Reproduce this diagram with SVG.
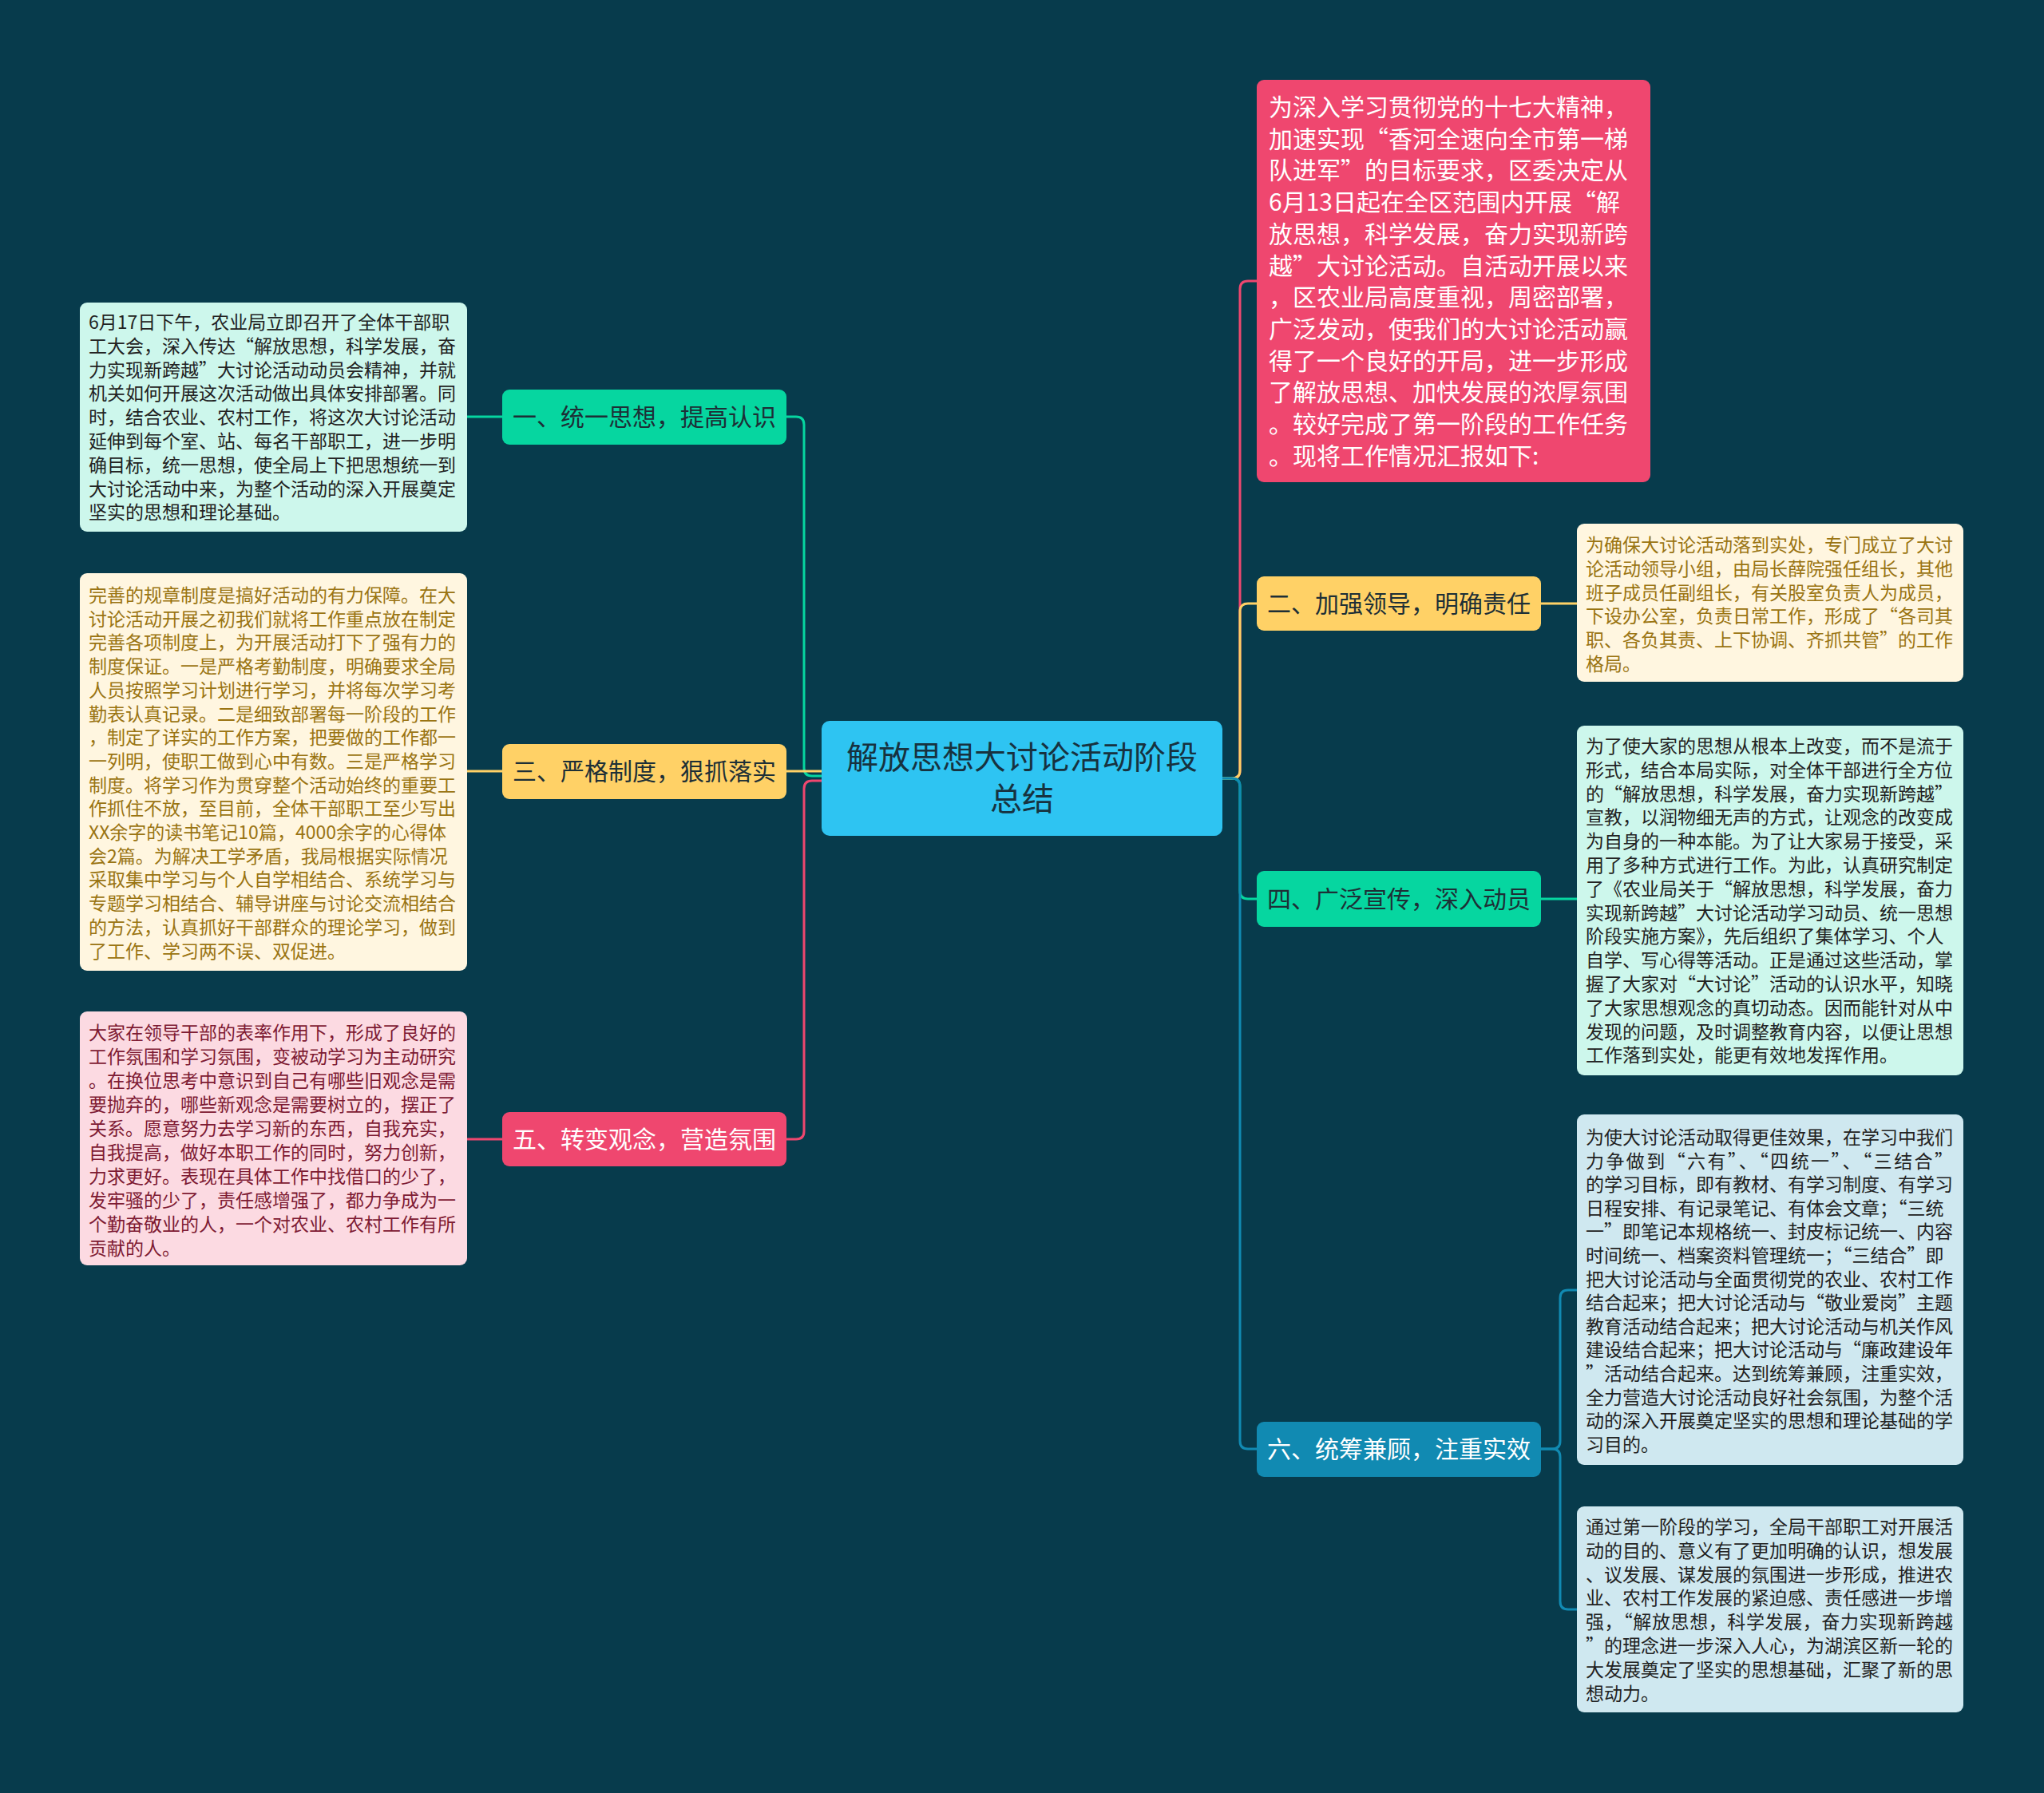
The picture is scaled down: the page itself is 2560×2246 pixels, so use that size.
<svg xmlns="http://www.w3.org/2000/svg" width="2560" height="2246" viewBox="0 0 2560 2246">
<style>
text{font-family:"Noto Sans CJK SC","Noto Sans",sans-serif;}
.conn path{fill:none;stroke-width:3;stroke-linecap:round;}
.g{stroke:#06D6A0}.y{stroke:#FFD166}.p{stroke:#EF476F}.b{stroke:#118AB2}
.lbl{font-size:30px;text-anchor:middle;}
.det{font-size:23px;}
.dark{fill:#1d2f36}
.light{fill:#ffffff}
</style>
<rect width="2560" height="2246" fill="#073B4C"/>
<g id="connectors" class="conn">
<path class="g" d="M1029,972 H1017 Q1007,972 1007,962 V532 Q1007,522 997,522 H985"/>
<path class="p" d="M1029,978 H1017 Q1007,978 1007,988 V1417 Q1007,1427 997,1427 H985"/>
<path class="y" d="M1029,966 H985"/>
<path class="g" d="M629,522 H585"/>
<path class="y" d="M629,966 H585"/>
<path class="p" d="M629,1427 H585"/>
<path class="p" d="M1531,975 H1543 Q1553,975 1553,965 V362 Q1553,352 1563,352 H1574"/>
<path class="y" d="M1531,975 H1543 Q1553,975 1553,965 V766 Q1553,756 1563,756 H1574"/>
<path class="g" d="M1531,975 H1543 Q1553,975 1553,985 V1116 Q1553,1126 1563,1126 H1574"/>
<path class="b" d="M1531,975 H1543 Q1553,975 1553,985 V1805 Q1553,1815 1563,1815 H1574"/>
<path class="y" d="M1930,756 H1975"/>
<path class="g" d="M1930,1126 H1975"/>
<path class="b" d="M1930,1815 H1944 Q1954,1815 1954,1805 V1626 Q1954,1616 1964,1616 H1975"/>
<path class="b" d="M1930,1815 H1944 Q1954,1815 1954,1825 V2006 Q1954,2016 1964,2016 H1975"/>
</g>
<g id="center">
<rect x="1029" y="903" width="502" height="144" rx="10" fill="#2EC4F2"/>
<text x="1280" y="963" font-size="40" text-anchor="middle" fill="#17323f"><tspan x="1280">解放思想大讨论活动阶段</tspan><tspan x="1280" dy="52">总结</tspan></text>
</g>
<g id="n1">
<rect x="629" y="488" width="356" height="69" rx="9" fill="#06D6A0"/>
<text class="lbl dark" x="807" y="533">一、统一思想，提高认识</text>
</g>
<g id="n3">
<rect x="629" y="932" width="356" height="69" rx="9" fill="#FFD166"/>
<text class="lbl dark" x="807" y="977">三、严格制度，狠抓落实</text>
</g>
<g id="n5">
<rect x="629" y="1393" width="356" height="68" rx="9" fill="#EF476F"/>
<text class="lbl light" x="807" y="1438">五、转变观念，营造氛围</text>
</g>
<g id="n2">
<rect x="1574" y="722" width="356" height="68" rx="9" fill="#FFD166"/>
<text class="lbl dark" x="1752" y="767">二、加强领导，明确责任</text>
</g>
<g id="n4">
<rect x="1574" y="1091" width="356" height="70" rx="9" fill="#06D6A0"/>
<text class="lbl dark" x="1752" y="1137">四、广泛宣传，深入动员</text>
</g>
<g id="n6">
<rect x="1574" y="1781" width="356" height="69" rx="9" fill="#118AB2"/>
<text class="lbl light" x="1752" y="1826">六、统筹兼顾，注重实效</text>
</g>
<g id="intro">
<rect x="1574" y="100" width="493" height="504" rx="9" fill="#EF476F"/>
<text x="1589" y="145" font-size="30" fill="#ffffff"><tspan x="1589">为深入学习贯彻党的十七大精神，</tspan><tspan x="1589" dy="39.7">加速实现“香河全速向全市第一梯</tspan><tspan x="1589" dy="39.7">队进军”的目标要求，区委决定从</tspan><tspan x="1589" dy="39.7">6月13日起在全区范围内开展“解</tspan><tspan x="1589" dy="39.7">放思想，科学发展，奋力实现新跨</tspan><tspan x="1589" dy="39.7">越”大讨论活动。自活动开展以来</tspan><tspan x="1589" dy="39.7">，区农业局高度重视，周密部署，</tspan><tspan x="1589" dy="39.7">广泛发动，使我们的大讨论活动赢</tspan><tspan x="1589" dy="39.7">得了一个良好的开局，进一步形成</tspan><tspan x="1589" dy="39.7">了解放思想、加快发展的浓厚氛围</tspan><tspan x="1589" dy="39.7">。较好完成了第一阶段的工作任务</tspan><tspan x="1589" dy="39.7">。现将工作情况汇报如下:</tspan></text>
</g>
<g id="d1">
<rect x="100" y="379" width="485" height="287" rx="9" fill="#CDF7EC"/>
<text class="det" x="111" y="412" fill="#222222"><tspan x="111">6月17日下午，农业局立即召开了全体干部职</tspan><tspan x="111" dy="29.8">工大会，深入传达“解放思想，科学发展，奋</tspan><tspan x="111" dy="29.8">力实现新跨越”大讨论活动动员会精神，并就</tspan><tspan x="111" dy="29.8">机关如何开展这次活动做出具体安排部署。同</tspan><tspan x="111" dy="29.8">时，结合农业、农村工作，将这次大讨论活动</tspan><tspan x="111" dy="29.8">延伸到每个室、站、每名干部职工，进一步明</tspan><tspan x="111" dy="29.8">确目标，统一思想，使全局上下把思想统一到</tspan><tspan x="111" dy="29.8">大讨论活动中来，为整个活动的深入开展奠定</tspan><tspan x="111" dy="29.8">坚实的思想和理论基础。</tspan></text>
</g>
<g id="d3">
<rect x="100" y="718" width="485" height="498" rx="9" fill="#FFF6E0"/>
<text class="det" x="111" y="754" fill="#9A7412"><tspan x="111">完善的规章制度是搞好活动的有力保障。在大</tspan><tspan x="111" dy="29.7">讨论活动开展之初我们就将工作重点放在制定</tspan><tspan x="111" dy="29.7">完善各项制度上，为开展活动打下了强有力的</tspan><tspan x="111" dy="29.7">制度保证。一是严格考勤制度，明确要求全局</tspan><tspan x="111" dy="29.7">人员按照学习计划进行学习，并将每次学习考</tspan><tspan x="111" dy="29.7">勤表认真记录。二是细致部署每一阶段的工作</tspan><tspan x="111" dy="29.7">，制定了详实的工作方案，把要做的工作都一</tspan><tspan x="111" dy="29.7">一列明，使职工做到心中有数。三是严格学习</tspan><tspan x="111" dy="29.7">制度。将学习作为贯穿整个活动始终的重要工</tspan><tspan x="111" dy="29.7">作抓住不放，至目前，全体干部职工至少写出</tspan><tspan x="111" dy="29.7">XX余字的读书笔记10篇，4000余字的心得体</tspan><tspan x="111" dy="29.7">会2篇。为解决工学矛盾，我局根据实际情况</tspan><tspan x="111" dy="29.7">采取集中学习与个人自学相结合、系统学习与</tspan><tspan x="111" dy="29.7">专题学习相结合、辅导讲座与讨论交流相结合</tspan><tspan x="111" dy="29.7">的方法，认真抓好干部群众的理论学习，做到</tspan><tspan x="111" dy="29.7">了工作、学习两不误、双促进。</tspan></text>
</g>
<g id="d5">
<rect x="100" y="1267" width="485" height="318" rx="9" fill="#FCDAE2"/>
<text class="det" x="111" y="1302" fill="#7E1A33"><tspan x="111">大家在领导干部的表率作用下，形成了良好的</tspan><tspan x="111" dy="30">工作氛围和学习氛围，变被动学习为主动研究</tspan><tspan x="111" dy="30">。在换位思考中意识到自己有哪些旧观念是需</tspan><tspan x="111" dy="30">要抛弃的，哪些新观念是需要树立的，摆正了</tspan><tspan x="111" dy="30">关系。愿意努力去学习新的东西，自我充实，</tspan><tspan x="111" dy="30">自我提高，做好本职工作的同时，努力创新，</tspan><tspan x="111" dy="30">力求更好。表现在具体工作中找借口的少了，</tspan><tspan x="111" dy="30">发牢骚的少了，责任感增强了，都力争成为一</tspan><tspan x="111" dy="30">个勤奋敬业的人，一个对农业、农村工作有所</tspan><tspan x="111" dy="30">贡献的人。</tspan></text>
</g>
<g id="d2">
<rect x="1975" y="656" width="484" height="198" rx="9" fill="#FFF6E0"/>
<text class="det" x="1986" y="691" fill="#9A7412"><tspan x="1986">为确保大讨论活动落到实处，专门成立了大讨</tspan><tspan x="1986" dy="29.8">论活动领导小组，由局长薛院强任组长，其他</tspan><tspan x="1986" dy="29.8">班子成员任副组长，有关股室负责人为成员，</tspan><tspan x="1986" dy="29.8">下设办公室，负责日常工作，形成了“各司其</tspan><tspan x="1986" dy="29.8">职、各负其责、上下协调、齐抓共管”的工作</tspan><tspan x="1986" dy="29.8">格局。</tspan></text>
</g>
<g id="d4">
<rect x="1975" y="909" width="484" height="438" rx="9" fill="#CDF7EC"/>
<text class="det" x="1986" y="943" fill="#222222"><tspan x="1986">为了使大家的思想从根本上改变，而不是流于</tspan><tspan x="1986" dy="29.8">形式，结合本局实际，对全体干部进行全方位</tspan><tspan x="1986" dy="29.8">的“解放思想，科学发展，奋力实现新跨越”</tspan><tspan x="1986" dy="29.8">宣教，以润物细无声的方式，让观念的改变成</tspan><tspan x="1986" dy="29.8">为自身的一种本能。为了让大家易于接受，采</tspan><tspan x="1986" dy="29.8">用了多种方式进行工作。为此，认真研究制定</tspan><tspan x="1986" dy="29.8">了《农业局关于“解放思想，科学发展，奋力</tspan><tspan x="1986" dy="29.8">实现新跨越”大讨论活动学习动员、统一思想</tspan><tspan x="1986" dy="29.8">阶段实施方案》，先后组织了集体学习、个人</tspan><tspan x="1986" dy="29.8">自学、写心得等活动。正是通过这些活动，掌</tspan><tspan x="1986" dy="29.8">握了大家对“大讨论”活动的认识水平，知晓</tspan><tspan x="1986" dy="29.8">了大家思想观念的真切动态。因而能针对从中</tspan><tspan x="1986" dy="29.8">发现的问题，及时调整教育内容，以便让思想</tspan><tspan x="1986" dy="29.8">工作落到实处，能更有效地发挥作用。</tspan></text>
</g>
<g id="d6a">
<rect x="1975" y="1396" width="484" height="439" rx="9" fill="#CFE8F0"/>
<text class="det" x="1986" y="1433" fill="#222222"><tspan x="1986">为使大讨论活动取得更佳效果，在学习中我们</tspan><tspan x="1986" dy="29.6" textLength="460" lengthAdjust="spacing">力争做到“六有”、“四统一”、“三结合”</tspan><tspan x="1986" dy="29.6">的学习目标，即有教材、有学习制度、有学习</tspan><tspan x="1986" dy="29.6">日程安排、有记录笔记、有体会文章；“三统</tspan><tspan x="1986" dy="29.6">一”即笔记本规格统一、封皮标记统一、内容</tspan><tspan x="1986" dy="29.6">时间统一、档案资料管理统一；“三结合”即</tspan><tspan x="1986" dy="29.6">把大讨论活动与全面贯彻党的农业、农村工作</tspan><tspan x="1986" dy="29.6">结合起来；把大讨论活动与“敬业爱岗”主题</tspan><tspan x="1986" dy="29.6">教育活动结合起来；把大讨论活动与机关作风</tspan><tspan x="1986" dy="29.6">建设结合起来；把大讨论活动与“廉政建设年</tspan><tspan x="1986" dy="29.6">”活动结合起来。达到统筹兼顾，注重实效，</tspan><tspan x="1986" dy="29.6">全力营造大讨论活动良好社会氛围，为整个活</tspan><tspan x="1986" dy="29.6">动的深入开展奠定坚实的思想和理论基础的学</tspan><tspan x="1986" dy="29.6">习目的。</tspan></text>
</g>
<g id="d6b">
<rect x="1975" y="1887" width="484" height="258" rx="9" fill="#CFE8F0"/>
<text class="det" x="1986" y="1921" fill="#222222"><tspan x="1986">通过第一阶段的学习，全局干部职工对开展活</tspan><tspan x="1986" dy="29.8">动的目的、意义有了更加明确的认识，想发展</tspan><tspan x="1986" dy="29.8">、议发展、谋发展的氛围进一步形成，推进农</tspan><tspan x="1986" dy="29.8">业、农村工作发展的紧迫感、责任感进一步增</tspan><tspan x="1986" dy="29.8" textLength="460" lengthAdjust="spacing">强，“解放思想，科学发展，奋力实现新跨越</tspan><tspan x="1986" dy="29.8">”的理念进一步深入人心，为湖滨区新一轮的</tspan><tspan x="1986" dy="29.8">大发展奠定了坚实的思想基础，汇聚了新的思</tspan><tspan x="1986" dy="29.8">想动力。</tspan></text>
</g>
</svg>
